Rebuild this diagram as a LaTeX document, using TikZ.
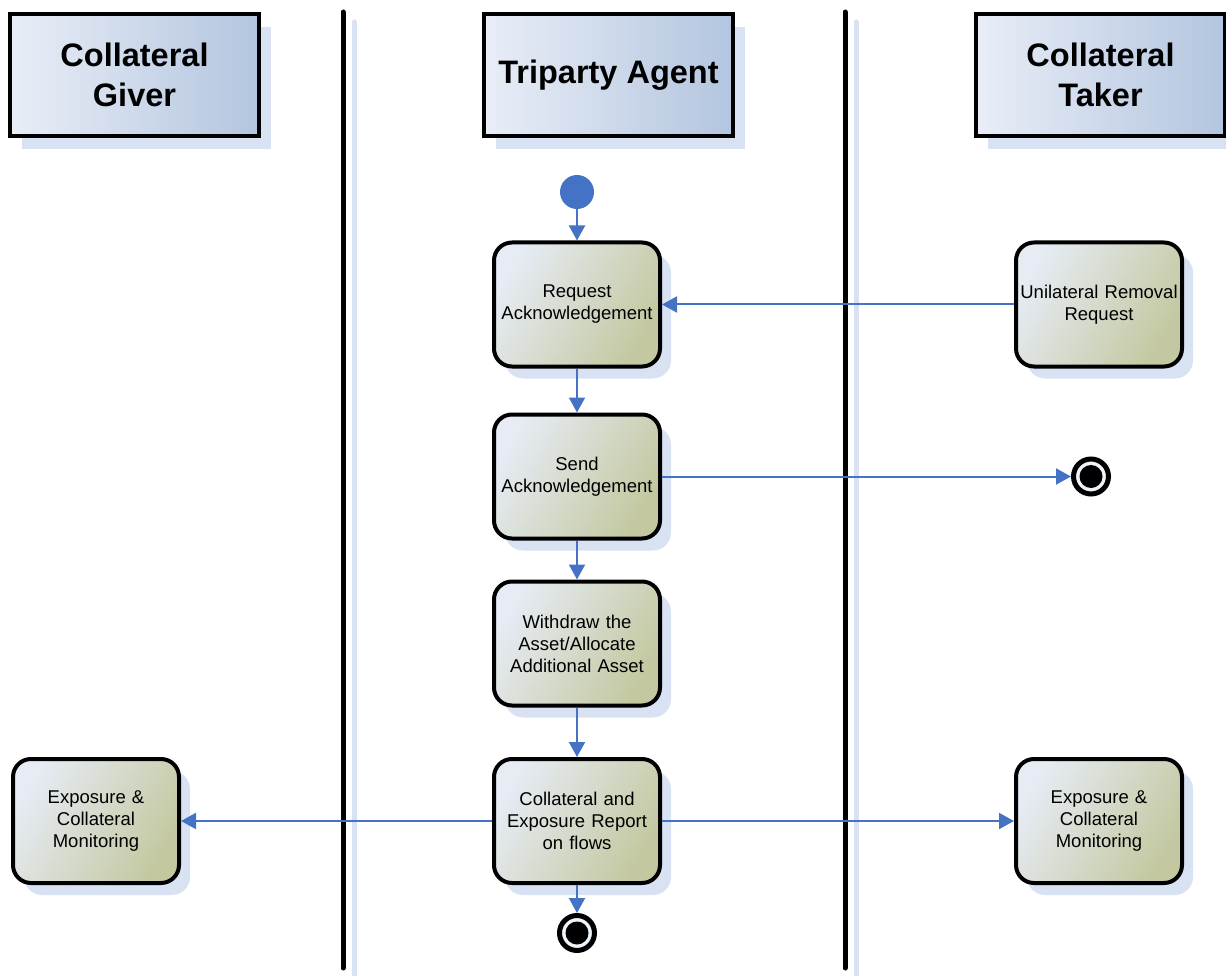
\documentclass[tikz,border=0pt]{standalone}
\usepackage{fontspec}
\setmainfont{Liberation Sans}
\usetikzlibrary{arrows.meta,shadows}
\definecolor{flowblue}{HTML}{4472C4}
\definecolor{shadowblue}{HTML}{D9E2F2}
\definecolor{headlight}{HTML}{E9EEF7}
\definecolor{headdark}{HTML}{B3C5DF}
\definecolor{actlight}{HTML}{E6EBF4}
\definecolor{actdark}{HTML}{C3C8A0}
\definecolor{endfill}{HTML}{EEF2F9}
\tikzset{
  header/.style={draw=black, line width=4pt, minimum width=249pt, minimum height=122pt,
    left color=headlight, right color=headdark,
    drop shadow={shadow xshift=12pt, shadow yshift=-13pt, fill=shadowblue, opacity=1},
    font=\fontsize{32.5}{40}\selectfont\bfseries, align=center},
  activity/.style={draw=black, line width=4pt, rounded corners=18pt,
    minimum width=166pt, minimum height=124pt, text width=158pt, inner xsep=3pt, align=center,
    shading=axis, left color=actlight, right color=actdark, shading angle=60,
    drop shadow={shadow xshift=11pt, shadow yshift=-12pt, fill=shadowblue, opacity=1},
    font=\fontsize{18.5}{22}\selectfont},
  startnode/.style={circle, fill=flowblue, minimum size=34pt, inner sep=0pt},
  endnode/.style={circle, draw=black, line width=5pt, fill=endfill, minimum size=35pt, inner sep=0pt,
    path picture={\fill[black] (path picture bounding box.center) circle (11.5pt);}},
  flow/.style={draw=flowblue, line width=2pt, -{Triangle[length=15pt,width=16pt]}},
  lane/.style={line width=5pt, line cap=round},
}
\begin{document}
\begin{tikzpicture}[x=1pt,y=-1pt]
\useasboundingbox (0,0) rectangle (1226,976);
% swimlane separators
\draw[lane, shadowblue] (354,22) -- (354,980);
\draw[lane, black] (343,12) -- (343,968);
\draw[lane, shadowblue] (856,22) -- (856,980);
\draw[lane, black] (845,12) -- (845,968);
% headers
\node[header] (giver) at (134.5,75) {Collateral\\Giver};
\node[header] (agent) at (608.5,75) {Triparty Agent};
\node[header] (taker) at (1100.5,75) {Collateral\\Taker};
% activities
\node[startnode] (start) at (577,192) {};
\node[activity] (req) at (577,304.5) {Request\\Acknowledgement};
\node[activity] (send) at (577,476.5) {Send\\Acknowledgement};
\node[activity] (withdraw) at (577,643.5) {Withdraw the\\Asset/Allocate\\Additional Asset};
\node[activity] (report) at (577,821) {Collateral and\\Exposure Report\\on flows};
\node[activity] (unilat) at (1099,304.5) {Unilateral Removal\\Request};
\node[activity] (expL) at (96,821) {Exposure \&\\Collateral\\Monitoring};
\node[activity] (expR) at (1099,821) {Exposure \&\\Collateral\\Monitoring};
\node[endnode] (endR) at (1091,476.5) {};
\node[endnode] (endB) at (577,933) {};
% flows
\draw[flow] (start) -- (req);
\draw[flow] (unilat) -- (req);
\draw[flow] (req) -- (send);
\draw[flow] (send) -- (endR);
\draw[flow] (send) -- (withdraw);
\draw[flow] (withdraw) -- (report);
\draw[flow] (report) -- (expL);
\draw[flow] (report) -- (expR);
\draw[flow] (report) -- (endB);
\end{tikzpicture}
\end{document}
